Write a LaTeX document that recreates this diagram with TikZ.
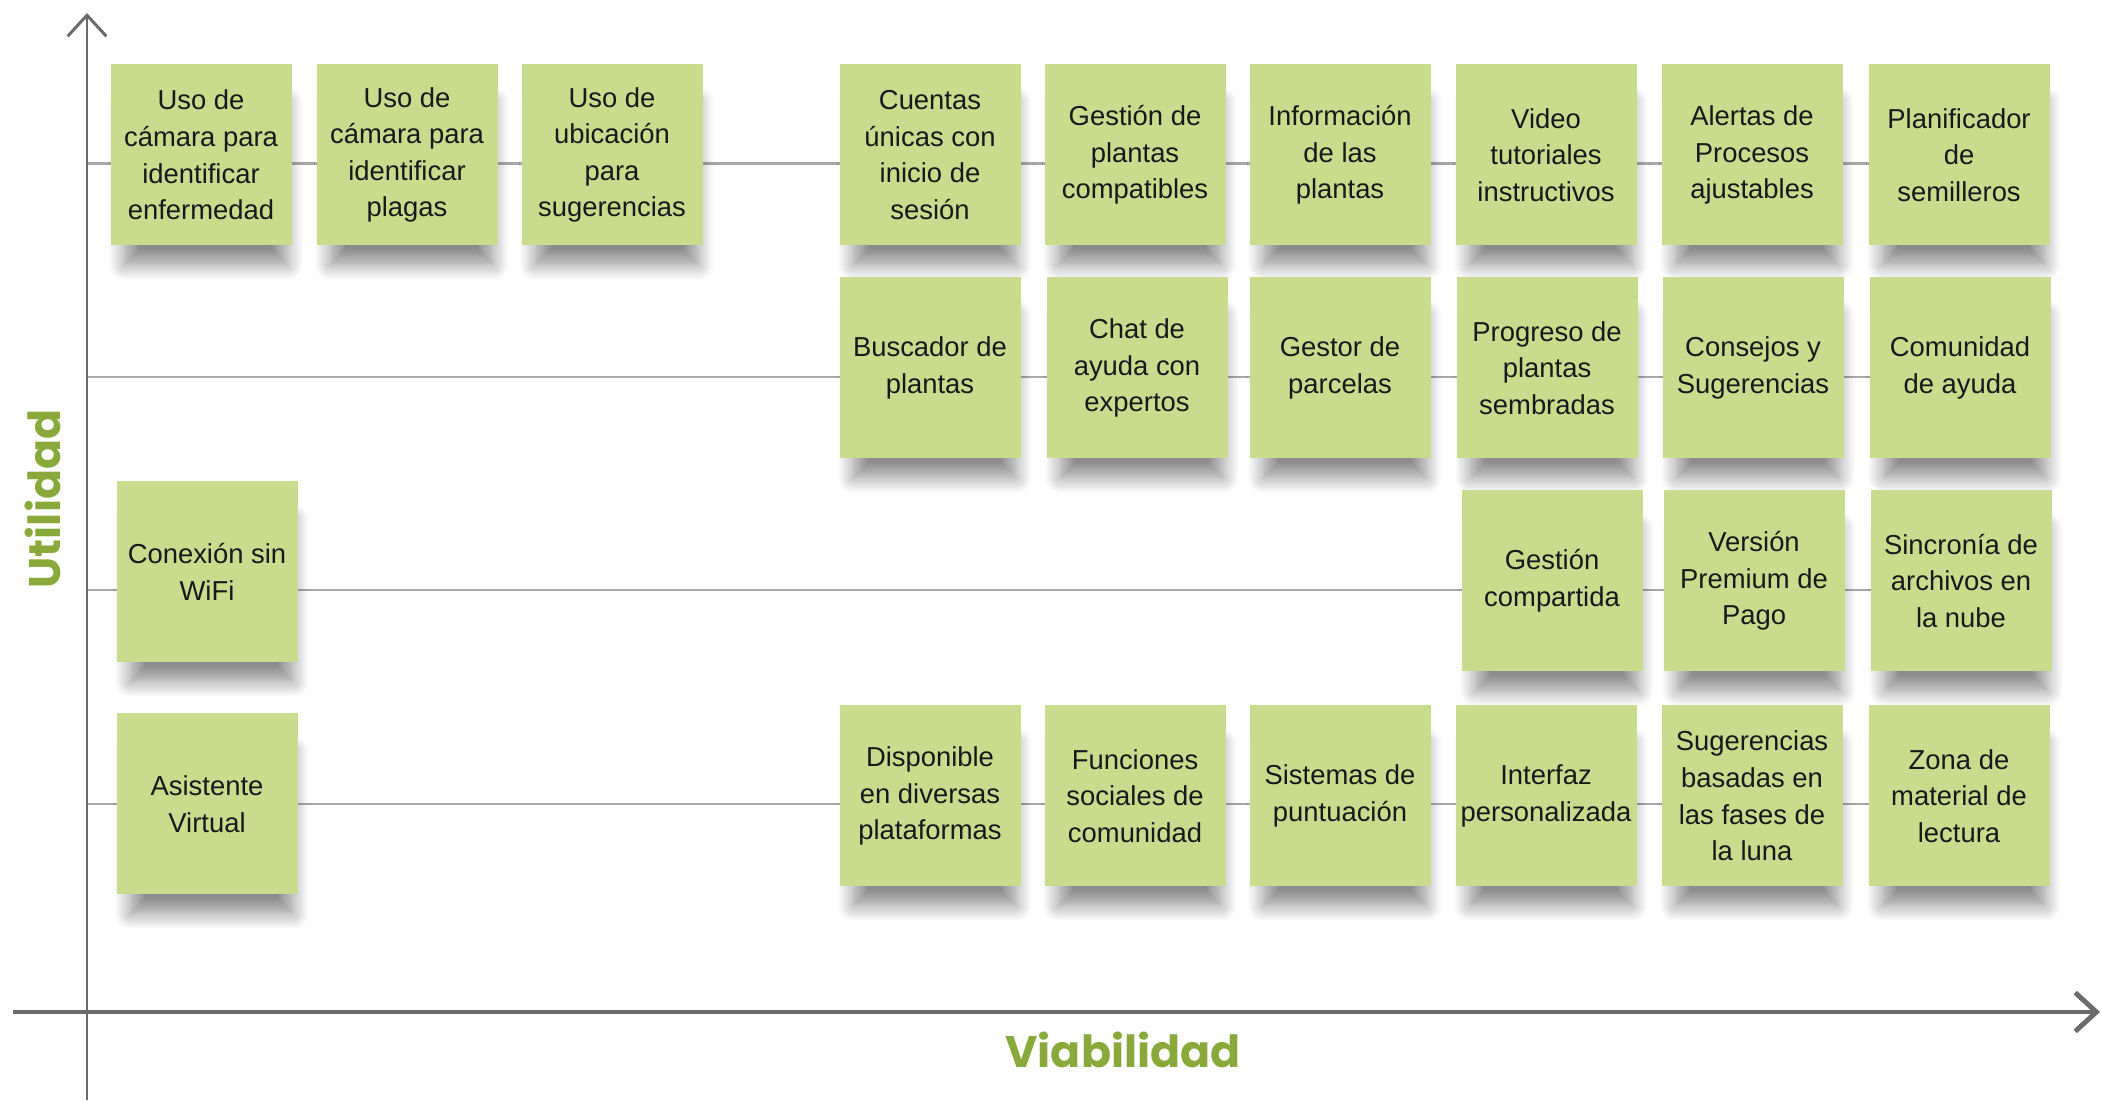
\documentclass[tikz,border=0pt]{standalone}
\usepackage{fontspec}
\setmainfont{Liberation Sans}
\newfontfamily\axisfont{Poppins}
\usetikzlibrary{arrows.meta, shadows.blur, backgrounds}
\definecolor{noteGreen}{HTML}{C9DB8D}
\definecolor{labelGreen}{HTML}{8AA93B}
\definecolor{axisGray}{gray}{0.42}
\definecolor{lineGray}{gray}{0.66}

\begin{document}
\begin{tikzpicture}[
    note/.style={fill=noteGreen, text=black!90, minimum width=1.81cm, minimum height=1.81cm, inner sep=0pt,
        align=center, font=\fontsize{7.8}{10.4}\selectfont,
        blur shadow={shadow xshift=1.5pt, shadow yshift=-9pt, shadow scale=0.9, shadow opacity=45,
            shadow blur radius=5pt, shadow blur steps=14}},
    row/.style={lineGray, line width=0.6pt},
    axis/.style={axisGray, -{Straight Barb[length=6pt, width=11pt]}},
    axislabel/.style={labelGreen, font=\axisfont\bfseries\fontsize{12.6}{14}\selectfont}
]
    \useasboundingbox (0,0) rectangle (21.02,11.00);

    \coordinate (yBot) at (0.87,0);
    \coordinate (yTop) at (0.87,10.87);
    \coordinate (xLeft) at (0.13,0.88);
    \coordinate (xRight) at (21.0,0.88);
    \coordinate (r1) at (0.87,9.365); % rows on the axis
    \coordinate (r2) at (0.87,7.233);
    \coordinate (r3) at (0.87,5.10);
    \coordinate (r4) at (0.87,2.96);

    % Notes, row 1
    \node[note] (camEnf) at (2.01,9.45) {Uso de\\cámara para\\identificar\\enfermedad};
    \node[note] (camPlag) at (4.07,9.45) {Uso de\\cámara para\\identificar\\plagas};
    \node[note] (ubicSug) at (6.12,9.45) {Uso de\\ubicación\\para\\sugerencias};
    \node[note] (cuentas) at (9.30,9.45) {Cuentas\\únicas con\\inicio de\\sesión};
    \node[note] (gestPlant) at (11.35,9.45) {Gestión de\\plantas\\compatibles};
    \node[note] (infoPlant) at (13.40,9.45) {Información\\de las\\plantas};
    \node[note] (video) at (15.46,9.45) {Video\\tutoriales\\instructivos};
    \node[note] (alertas) at (17.52,9.45) {Alertas de\\Procesos\\ajustables};
    \node[note] (planif) at (19.59,9.45) {Planificador\\de\\semilleros};

    % Notes, row 2
    \node[note] (buscador) at (9.30,7.32) {Buscador de\\plantas};
    \node[note] (chat) at (11.37,7.32) {Chat de\\ayuda con\\expertos};
    \node[note] (gestor) at (13.40,7.32) {Gestor de\\parcelas};
    \node[note] (progreso) at (15.47,7.32) {Progreso de\\plantas\\sembradas};
    \node[note] (consejos) at (17.53,7.32) {Consejos y\\Sugerencias};
    \node[note] (comunidad) at (19.60,7.32) {Comunidad\\de ayuda};

    % Notes, row 3
    \node[note] (conexion) at (2.07,5.28) {Conexión sin\\WiFi};
    \node[note] (gestComp) at (15.52,5.19) {Gestión\\compartida};
    \node[note] (premium) at (17.54,5.19) {Versión\\Premium de\\Pago};
    \node[note] (sincronia) at (19.61,5.19) {Sincronía de\\archivos en\\la nube};

    % Notes, row 4
    \node[note] (asistente) at (2.07,2.96) {Asistente\\Virtual};
    \node[note] (disponible) at (9.30,3.04) {Disponible\\en diversas\\plataformas};
    \node[note] (funciones) at (11.35,3.04) {Funciones\\sociales de\\comunidad};
    \node[note] (puntuacion) at (13.40,3.04) {Sistemas de\\puntuación};
    \node[note] (interfaz) at (15.46,3.04) {Interfaz\\personalizada};
    \node[note] (luna) at (17.52,3.04) {Sugerencias\\basadas en\\las fases de\\la luna};
    \node[note] (lectura) at (19.59,3.04) {Zona de\\material de\\lectura};

    % Row lines behind the notes
    \begin{pgfonlayer}{background}
        \draw[row] (r1) -- (r1 -| planif.center);
        \draw[row] (r2) -- (r2 -| comunidad.center);
        \draw[row] (r3) -- (r3 -| sincronia.center);
        \draw[row] (r4) -- (r4 -| lectura.center);
    \end{pgfonlayer}

    % Axes
    \draw[axis, line width=0.85pt] (yBot) -- (yTop);
    \draw[axis, line width=1.4pt] (xLeft) -- (xRight);

    \node[axislabel] (viab) at (11.23,0.50) {Viabilidad};
    \node[axislabel, rotate=90] (util) at (0.43,6.01) {Utilidad};
\end{tikzpicture}
\end{document}
